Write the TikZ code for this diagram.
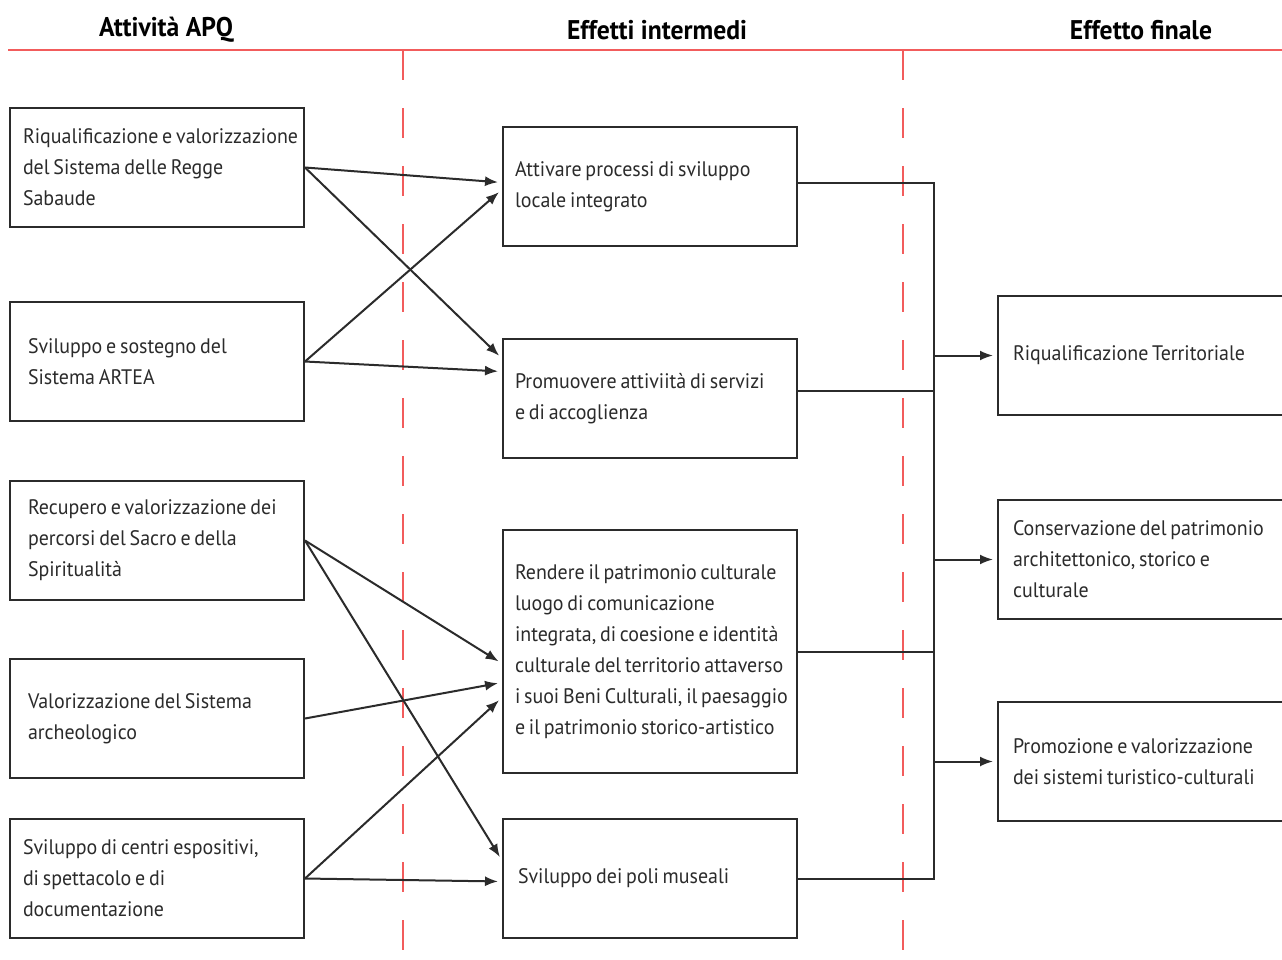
\documentclass[tikz,border=0pt]{standalone}
\usepackage{fontspec}
\setmainfont[FakeStretch=0.95]{PT Sans}
\usetikzlibrary{arrows.meta,positioning,calc}
\definecolor{ink}{HTML}{2B2B2B}
\definecolor{guide}{HTML}{F25C5C}

\begin{document}
\begin{tikzpicture}[
  x=1pt, y=-1pt,
  every node/.style={font=\fontsize{21}{31}\selectfont, text=ink},
  lpad/.style={execute at begin node={\leftskip=#1\relax
    \rightskip=0pt plus 2em minus 8pt\relax
    \spaceskip=3.8pt plus 2pt minus 1pt\relax}},
  box/.style={rectangle, draw=ink, line width=2pt, text width=288pt,
    inner xsep=3pt, minimum height=119pt, align=left, lpad=10pt},
  head/.style={font=\fontsize{27}{32}\selectfont\bfseries, text=black},
  arr/.style={-{Latex[length=13pt,width=10pt]}, line width=2pt, draw=ink,
    shorten >=4pt},
  conn/.style={line width=2pt, draw=ink},
  rule/.style={line width=2pt, draw=guide},
  guideline/.style={rule, dash pattern=on 30pt off 28pt},
]
\useasboundingbox[fill=white] (0,0) rectangle (1282,959);

% headings and guide lines
\node[head] (hatt) at (166,30) {Attività APQ};
\node[head] (hint) at (657,30) {Effetti intermedi};
\node[head] (hfin) at (1141,30) {Effetto finale};
\draw[rule] (8,50) -- (1282,50);
\draw[guideline] (403,50) -- (403,959);
\draw[guideline] (903,50) -- (903,959);

% activities
\node[box, anchor=north west] (regge) at (9,107)
  {Riqualificazione e valorizzazione\\del Sistema delle Regge\\Sabaude};
\node[box, lpad=15pt, below=73pt of regge] (artea) {Sviluppo e sostegno del\\Sistema ARTEA};
\node[box, lpad=15pt, below=58pt of artea] (sacro)
  {Recupero e valorizzazione dei\\percorsi del Sacro e della\\Spiritualità};
\node[box, lpad=15pt, below=57pt of sacro] (archeo) {Valorizzazione del Sistema\\archeologico};
\node[box, below=39pt of archeo] (centri)
  {Sviluppo di centri espositivi,\\di spettacolo e di\\documentazione};

% intermediate effects
\node[box, lpad=9pt, anchor=north west] (sviluppo) at (502,126)
  {Attivare processi di sviluppo\\locale integrato};
\node[box, lpad=9pt, below=91pt of sviluppo] (servizi)
  {Promuovere attiviità di servizi\\e di accoglienza};
\node[box, lpad=9pt, below=70pt of servizi, minimum height=243pt] (patrimonio)
  {Rendere il patrimonio culturale\\luogo di comunicazione\\integrata, di coesione e identità\\culturale del territorio attaverso\\i suoi Beni Culturali, il paesaggio\\e il patrimonio storico-artistico};
\node[box, lpad=12pt, below=44pt of patrimonio] (poli) {Sviluppo dei poli museali};

% final effects
\node[box, lpad=12pt, anchor=north west] (territ) at (997,295) {Riqualificazione Territoriale};
\node[box, lpad=12pt, below=83pt of territ] (conserv)
  {Conservazione del patrimonio\\architettonico, storico e\\culturale};
\node[box, lpad=12pt, below=81pt of conserv] (promoz)
  {Promozione e valorizzazione\\dei sistemi turistico-culturali};

% activities -> intermediate effects
\draw[arr] (regge.east) -- ([yshift=4pt]sviluppo.west);
\draw[arr] (regge.east) -- ([yshift=40pt]servizi.west);
\draw[arr] (artea.east) -- ([yshift=-3pt]sviluppo.west);
\draw[arr] (artea.east) -- ([yshift=27pt]servizi.west);
\draw[arr] (sacro.east) -- ([yshift=-12pt]patrimonio.west);
\draw[arr] (sacro.east) -- ([yshift=18pt]poli.west);
\draw[arr] (archeo.east) -- ([yshift=-31pt]patrimonio.west);
\draw[arr] (centri.east) -- ([yshift=-46pt]patrimonio.west);
\draw[arr] (centri.east) -- ([yshift=-3pt]poli.west);

% intermediate effects -> final effects
\coordinate (bus) at (934,0);
\coordinate (svout) at ([yshift=4pt]sviluppo.east);
\coordinate (seout) at ([yshift=8pt]servizi.east);
\draw[conn] (svout) -| (bus |- poli.east) -- (poli.east);
\draw[conn] (seout) -- (seout -| bus);
\draw[conn] (patrimonio.east) -- (patrimonio.east -| bus);
\draw[arr] (bus |- territ.west) -- (territ.west);
\draw[arr] (bus |- conserv.west) -- (conserv.west);
\draw[arr] (bus |- promoz.west) -- (promoz.west);
\end{tikzpicture}
\end{document}
